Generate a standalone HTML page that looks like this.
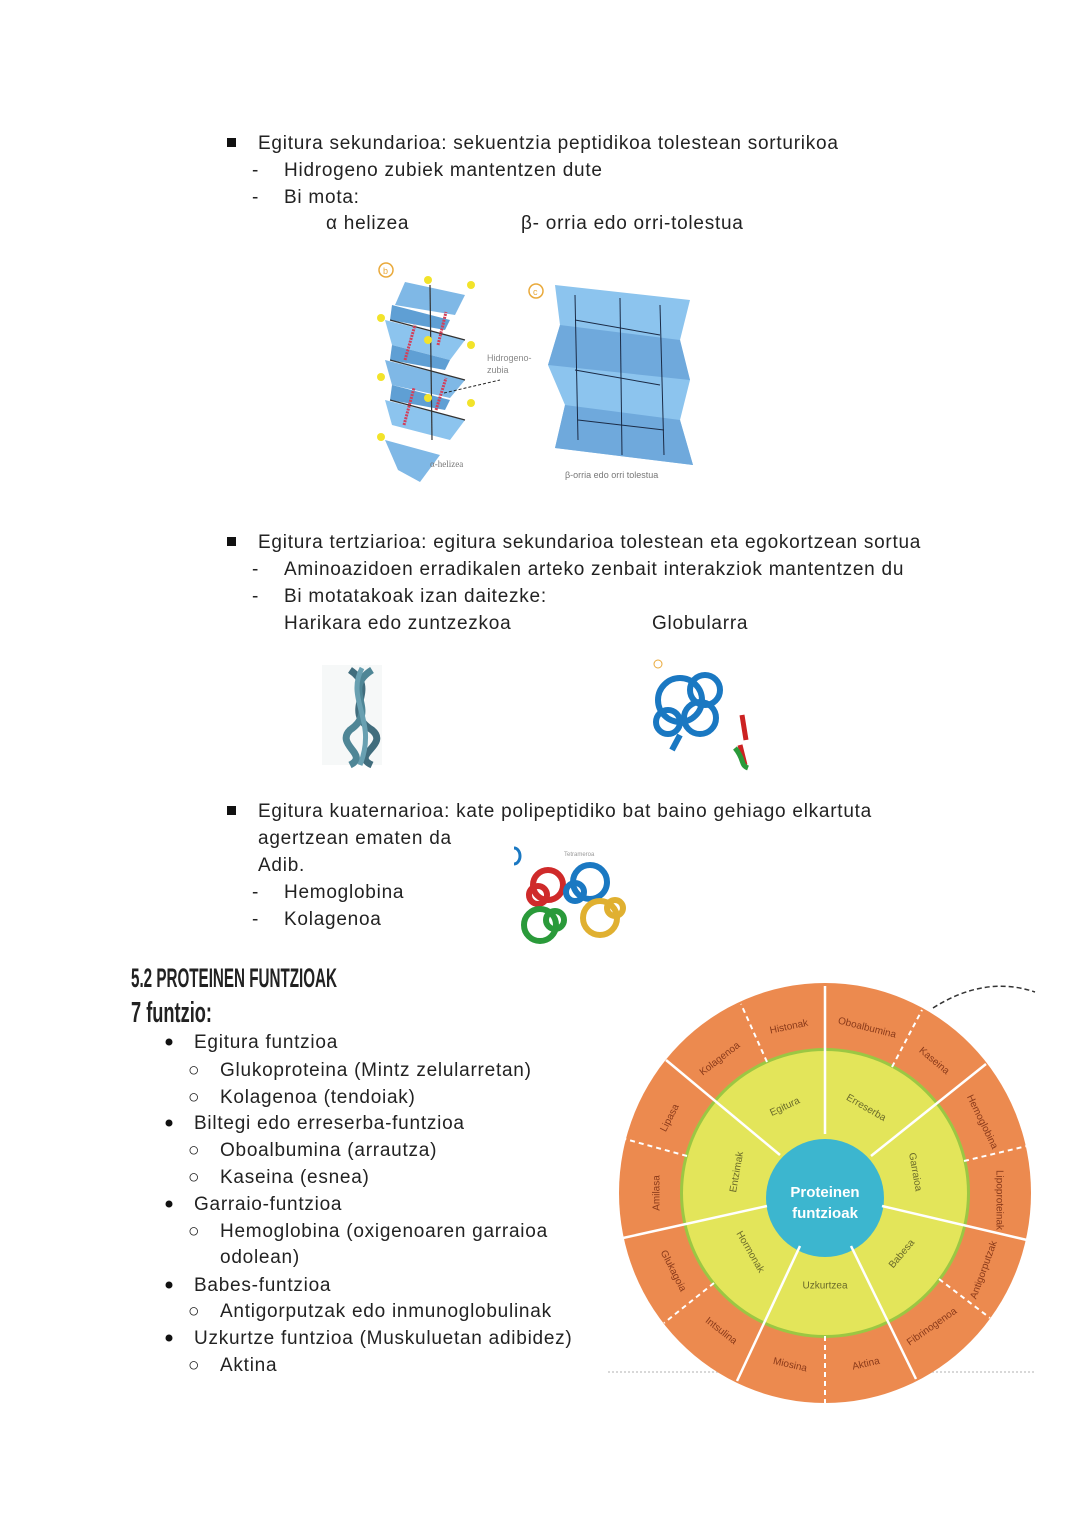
<!DOCTYPE html>
<html><head><meta charset="utf-8"><style>
html,body{margin:0;padding:0;background:#fff;}
svg{display:block}
.t{font-family:"Liberation Sans",sans-serif;font-size:19px;fill:#222;letter-spacing:0.75px;}
</style></head><body>
<svg width="1080" height="1525" viewBox="0 0 1080 1525" xmlns="http://www.w3.org/2000/svg">
<g class="t">
<rect x="227" y="138" width="9" height="9" fill="#111"/>
<text x="258" y="149">Egitura sekundarioa: sekuentzia peptidikoa tolestean sorturikoa</text>
<text x="252" y="176">-</text><text x="284" y="176">Hidrogeno zubiek mantentzen dute</text>
<text x="252" y="203">-</text><text x="284" y="203">Bi mota:</text>
<text x="326" y="229">α helizea</text>
<text x="521" y="229">β- orria edo orri-tolestua</text>

<rect x="227" y="537" width="9" height="9" fill="#111"/>
<text x="258" y="548">Egitura tertziarioa: egitura sekundarioa tolestean eta egokortzean sortua</text>
<text x="252" y="575">-</text><text x="284" y="575">Aminoazidoen erradikalen arteko zenbait interakziok mantentzen du</text>
<text x="252" y="602">-</text><text x="284" y="602">Bi motatakoak izan daitezke:</text>
<text x="284" y="629">Harikara edo zuntzezkoa</text>
<text x="652" y="629">Globularra</text>

<rect x="227" y="806" width="9" height="9" fill="#111"/>
<text x="258" y="817">Egitura kuaternarioa: kate polipeptidiko bat baino gehiago elkartuta</text>
<text x="258" y="844">agertzean ematen da</text>
<text x="258" y="871">Adib.</text>
<text x="252" y="898">-</text><text x="284" y="898">Hemoglobina</text>
<text x="252" y="925">-</text><text x="284" y="925">Kolagenoa</text>

<g fill="#111"><circle cx="169" cy="1042" r="3.5"/><circle cx="169" cy="1123" r="3.5"/><circle cx="169" cy="1204" r="3.5"/><circle cx="169" cy="1285" r="3.5"/><circle cx="169" cy="1338" r="3.5"/></g>
<text x="194" y="1048">Egitura funtzioa</text>
<text x="188" y="1076">○</text><text x="220" y="1076">Glukoproteina (Mintz zelularretan)</text>
<text x="188" y="1103">○</text><text x="220" y="1103">Kolagenoa (tendoiak)</text>
<text x="194" y="1129">Biltegi edo erreserba-funtzioa</text>
<text x="188" y="1156">○</text><text x="220" y="1156">Oboalbumina (arrautza)</text>
<text x="188" y="1183">○</text><text x="220" y="1183">Kaseina (esnea)</text>
<text x="194" y="1210">Garraio-funtzioa</text>
<text x="188" y="1237">○</text><text x="220" y="1237">Hemoglobina (oxigenoaren garraioa</text>
<text x="220" y="1263">odolean)</text>
<text x="194" y="1291">Babes-funtzioa</text>
<text x="188" y="1317">○</text><text x="220" y="1317">Antigorputzak edo inmunoglobulinak</text>
<text x="194" y="1344">Uzkurtze funtzioa (Muskuluetan adibidez)</text>
<text x="188" y="1371">○</text><text x="220" y="1371">Aktina</text>
</g>
<text x="131" y="987" font-family="'Liberation Sans Narrow','Liberation Sans',sans-serif" font-size="27" font-weight="bold" fill="#222" textLength="206" lengthAdjust="spacingAndGlyphs">5.2 PROTEINEN FUNTZIOAK</text>
<text x="131" y="1022" font-family="'Liberation Sans Narrow','Liberation Sans',sans-serif" font-size="29" font-weight="bold" fill="#222" textLength="81" lengthAdjust="spacingAndGlyphs">7 funtzio:</text>

<!-- alpha helix -->
<g>
<circle cx="386" cy="270" r="7" fill="none" stroke="#e9a93a" stroke-width="1.5"/>
<text x="383" y="274" font-family="Liberation Sans" font-size="9" fill="#e9a93a">b</text>
<path d="M405 282 L465 295 L455 315 L395 305 Z" fill="#7fb8e6"/>
<path d="M385 320 L465 340 L450 360 L392 345 Z" fill="#8cc4ee"/>
<path d="M385 360 L465 380 L450 398 L392 385 Z" fill="#7fb8e6"/>
<path d="M385 400 L465 420 L450 440 L392 425 Z" fill="#8cc4ee"/>
<path d="M385 440 L440 455 L420 482 L398 470 Z" fill="#7fb8e6"/>
<path d="M392 305 L450 320 L445 330 L390 320Z" fill="#5f9fd4"/>
<path d="M392 345 L450 360 L445 370 L390 360Z" fill="#5f9fd4"/>
<path d="M392 385 L450 400 L445 410 L390 400Z" fill="#5f9fd4"/>
<g stroke="#333" stroke-width="1.2" fill="none"><path d="M430 285 L432 440"/><path d="M390 320 L465 340 M390 360 L465 380 M390 400 L465 420"/></g>
<g stroke="#d33f5a" stroke-width="3" stroke-dasharray="2 1"><line x1="405" y1="360" x2="415" y2="325"/><line x1="438" y1="345" x2="446" y2="312"/><line x1="404" y1="425" x2="414" y2="388"/><line x1="436" y1="410" x2="446" y2="378"/></g>
<g fill="#f2e32a"><circle cx="428" cy="280" r="4"/><circle cx="471" cy="285" r="4"/><circle cx="381" cy="318" r="4"/><circle cx="428" cy="340" r="4"/><circle cx="471" cy="345" r="4"/><circle cx="381" cy="377" r="4"/><circle cx="428" cy="398" r="4"/><circle cx="471" cy="403" r="4"/><circle cx="381" cy="437" r="4"/></g>
<line x1="444" y1="393" x2="500" y2="380" stroke="#222" stroke-dasharray="3 2"/>
<text x="487" y="361" font-family="Liberation Sans" font-size="9" fill="#888">Hidrogeno-</text>
<text x="487" y="373" font-family="Liberation Sans" font-size="9" fill="#888">zubia</text>
<text x="430" y="467" font-family="Liberation Serif" font-size="9" fill="#777">α-helizea</text>
</g>
<!-- beta sheet -->
<g>
<circle cx="536" cy="291" r="7" fill="none" stroke="#e9a93a" stroke-width="1.5"/>
<text x="533" y="295" font-family="Liberation Sans" font-size="9" fill="#e9a93a">c</text>
<path d="M555 285 L690 300 L680 340 L690 380 L680 420 L693 465 L555 448 L565 405 L548 365 L560 325 Z" fill="#8cc4ee"/>
<path d="M560 325 L680 340 L690 380 L548 365 Z" fill="#6fa9dc"/>
<path d="M565 405 L680 420 L693 465 L555 448 Z" fill="#6fa9dc"/>
<g stroke="#1b2b46" stroke-width="1" fill="none"><path d="M575 295 L578 440"/><path d="M620 298 L622 455"/><path d="M660 305 L664 455"/><path d="M575 320 L660 335 M575 370 L660 385 M578 420 L664 430"/></g>
<text x="565" y="478" font-family="Liberation Sans" font-size="9" fill="#777">β-orria edo orri tolestua</text>
</g>
<!-- fibrous -->
<rect x="322" y="665" width="60" height="100" fill="#f6f8f8"/>
<g fill="none" opacity="0.9">
<path d="M350 670 C380 690 340 710 372 730 C390 745 350 755 372 765" stroke="#2e5e70" stroke-width="7"/>
<path d="M372 670 C340 690 380 710 350 730 C335 745 370 755 350 765" stroke="#3d7a8c" stroke-width="7"/>
<path d="M362 668 C345 700 378 720 360 765" stroke="#5a97aa" stroke-width="5"/>
</g>
<!-- globular -->
<g fill="none" stroke="#1a78c2" stroke-width="6">
<circle cx="680" cy="700" r="22"/><circle cx="705" cy="690" r="15"/><circle cx="700" cy="718" r="16"/><circle cx="668" cy="722" r="12"/>
<path d="M680 735 L672 750"/>
</g>
<path d="M742 715 L746 740 M740 745 L745 765" stroke="#cc2222" stroke-width="5"/>
<path d="M735 748 C745 760 740 765 748 768" stroke="#2a9a3a" stroke-width="5" fill="none"/>
<circle cx="658" cy="664" r="4" fill="none" stroke="#e9a93a"/>
<!-- tetramer -->
<g fill="none" stroke-width="6">
<g stroke="#cf2a2a"><circle cx="548" cy="885" r="15"/><circle cx="538" cy="895" r="9"/></g>
<g stroke="#1a78c2"><circle cx="590" cy="882" r="17"/><circle cx="575" cy="892" r="9"/></g>
<g stroke="#2a9a3a"><circle cx="540" cy="925" r="16"/><circle cx="555" cy="920" r="9"/></g>
<g stroke="#e0b030"><circle cx="600" cy="918" r="17"/><circle cx="615" cy="908" r="8"/></g>
</g>
<path d="M514 848 A6 8 0 0 1 514 864" stroke="#1a78c2" stroke-width="3" fill="none"/>
<text x="564" y="856" font-family="Liberation Sans" font-size="6" fill="#999">Tetrameroa</text>

<!-- wheel -->
<g>
<line x1="608" y1="1372" x2="1036" y2="1372" stroke="#ccc" stroke-width="1.5" stroke-dasharray="2 2"/>
<path d="M933 1008 Q985 975 1035 992" stroke="#333" stroke-width="1.5" fill="none" stroke-dasharray="5 3"/>
<ellipse cx="825" cy="1193" rx="206" ry="210" fill="#ec8a4f"/>
<circle cx="825" cy="1193" r="145" fill="#9bc743"/>
<circle cx="825" cy="1193" r="142" fill="#e3e55a"/>
<circle cx="825" cy="1198" r="59" fill="#3cb6cf"/>
<g stroke="#fff" stroke-width="2.5">
<line x1="825" y1="1134" x2="825" y2="986"/>
<line x1="871" y1="1156" x2="986" y2="1064"/>
<line x1="882" y1="1206" x2="1027" y2="1240"/>
<line x1="851" y1="1246" x2="916" y2="1379"/>
<line x1="800" y1="1246" x2="737" y2="1381"/>
<line x1="767" y1="1206" x2="623" y2="1238"/>
<line x1="780" y1="1155" x2="666" y2="1060"/>
</g>
<g stroke="#fff" stroke-width="2" stroke-dasharray="5 4">
<line x1="767" y1="1062" x2="741" y2="1004"/>
<line x1="892" y1="1067" x2="922" y2="1010"/>
<line x1="964" y1="1161" x2="1027" y2="1146"/>
<line x1="939" y1="1279" x2="990" y2="1318"/>
<line x1="825" y1="1336" x2="825" y2="1403"/>
<line x1="714" y1="1283" x2="664" y2="1323"/>
<line x1="687" y1="1156" x2="625" y2="1139"/>
</g>
<g font-family="Liberation Sans" font-size="10" fill="#8a3a1a" text-anchor="middle" dominant-baseline="middle">
<text transform="translate(789,1027) rotate(-12)">Histonak</text>
<text transform="translate(867,1028) rotate(14)">Oboalbumina</text>
<text transform="translate(934,1061) rotate(40)">Kaseina</text>
<text transform="translate(982,1122) rotate(64)">Hemoglobina</text>
<text transform="translate(999,1200) rotate(90)">Lipoproteinak</text>
<text transform="translate(984,1270) rotate(-70)">Antigorputzak</text>
<text transform="translate(932,1327) rotate(-35)">Fibrinogenoa</text>
<text transform="translate(866,1364) rotate(-13)">Aktina</text>
<text transform="translate(790,1365) rotate(13)">Miosina</text>
<text transform="translate(721,1331) rotate(38)">Intsulina</text>
<text transform="translate(673,1271) rotate(63)">Glukagoia</text>
<text transform="translate(657,1193) rotate(-90)">Amilasa</text>
<text transform="translate(670,1118) rotate(-63)">Lipasa</text>
<text transform="translate(720,1059) rotate(-38)">Kolagenoa</text>
</g>
<g font-family="Liberation Sans" font-size="10" fill="#6a6a2a" text-anchor="middle" dominant-baseline="middle">
<text transform="translate(785,1107) rotate(-25)">Egitura</text>
<text transform="translate(866,1108) rotate(30)">Erreserba</text>
<text transform="translate(915,1172) rotate(80)">Garraioa</text>
<text transform="translate(902,1254) rotate(-50)">Babesa</text>
<text transform="translate(825,1286)">Uzkurtzea</text>
<text transform="translate(750,1252) rotate(60)">Hormonak</text>
<text transform="translate(737,1172) rotate(-80)">Entzimak</text>
</g>
<g font-family="Liberation Sans" font-size="15" font-weight="bold" fill="#fff" text-anchor="middle">
<text x="825" y="1197">Proteinen</text>
<text x="825" y="1218">funtzioak</text>
</g>
</g>
</svg>
</body></html>
